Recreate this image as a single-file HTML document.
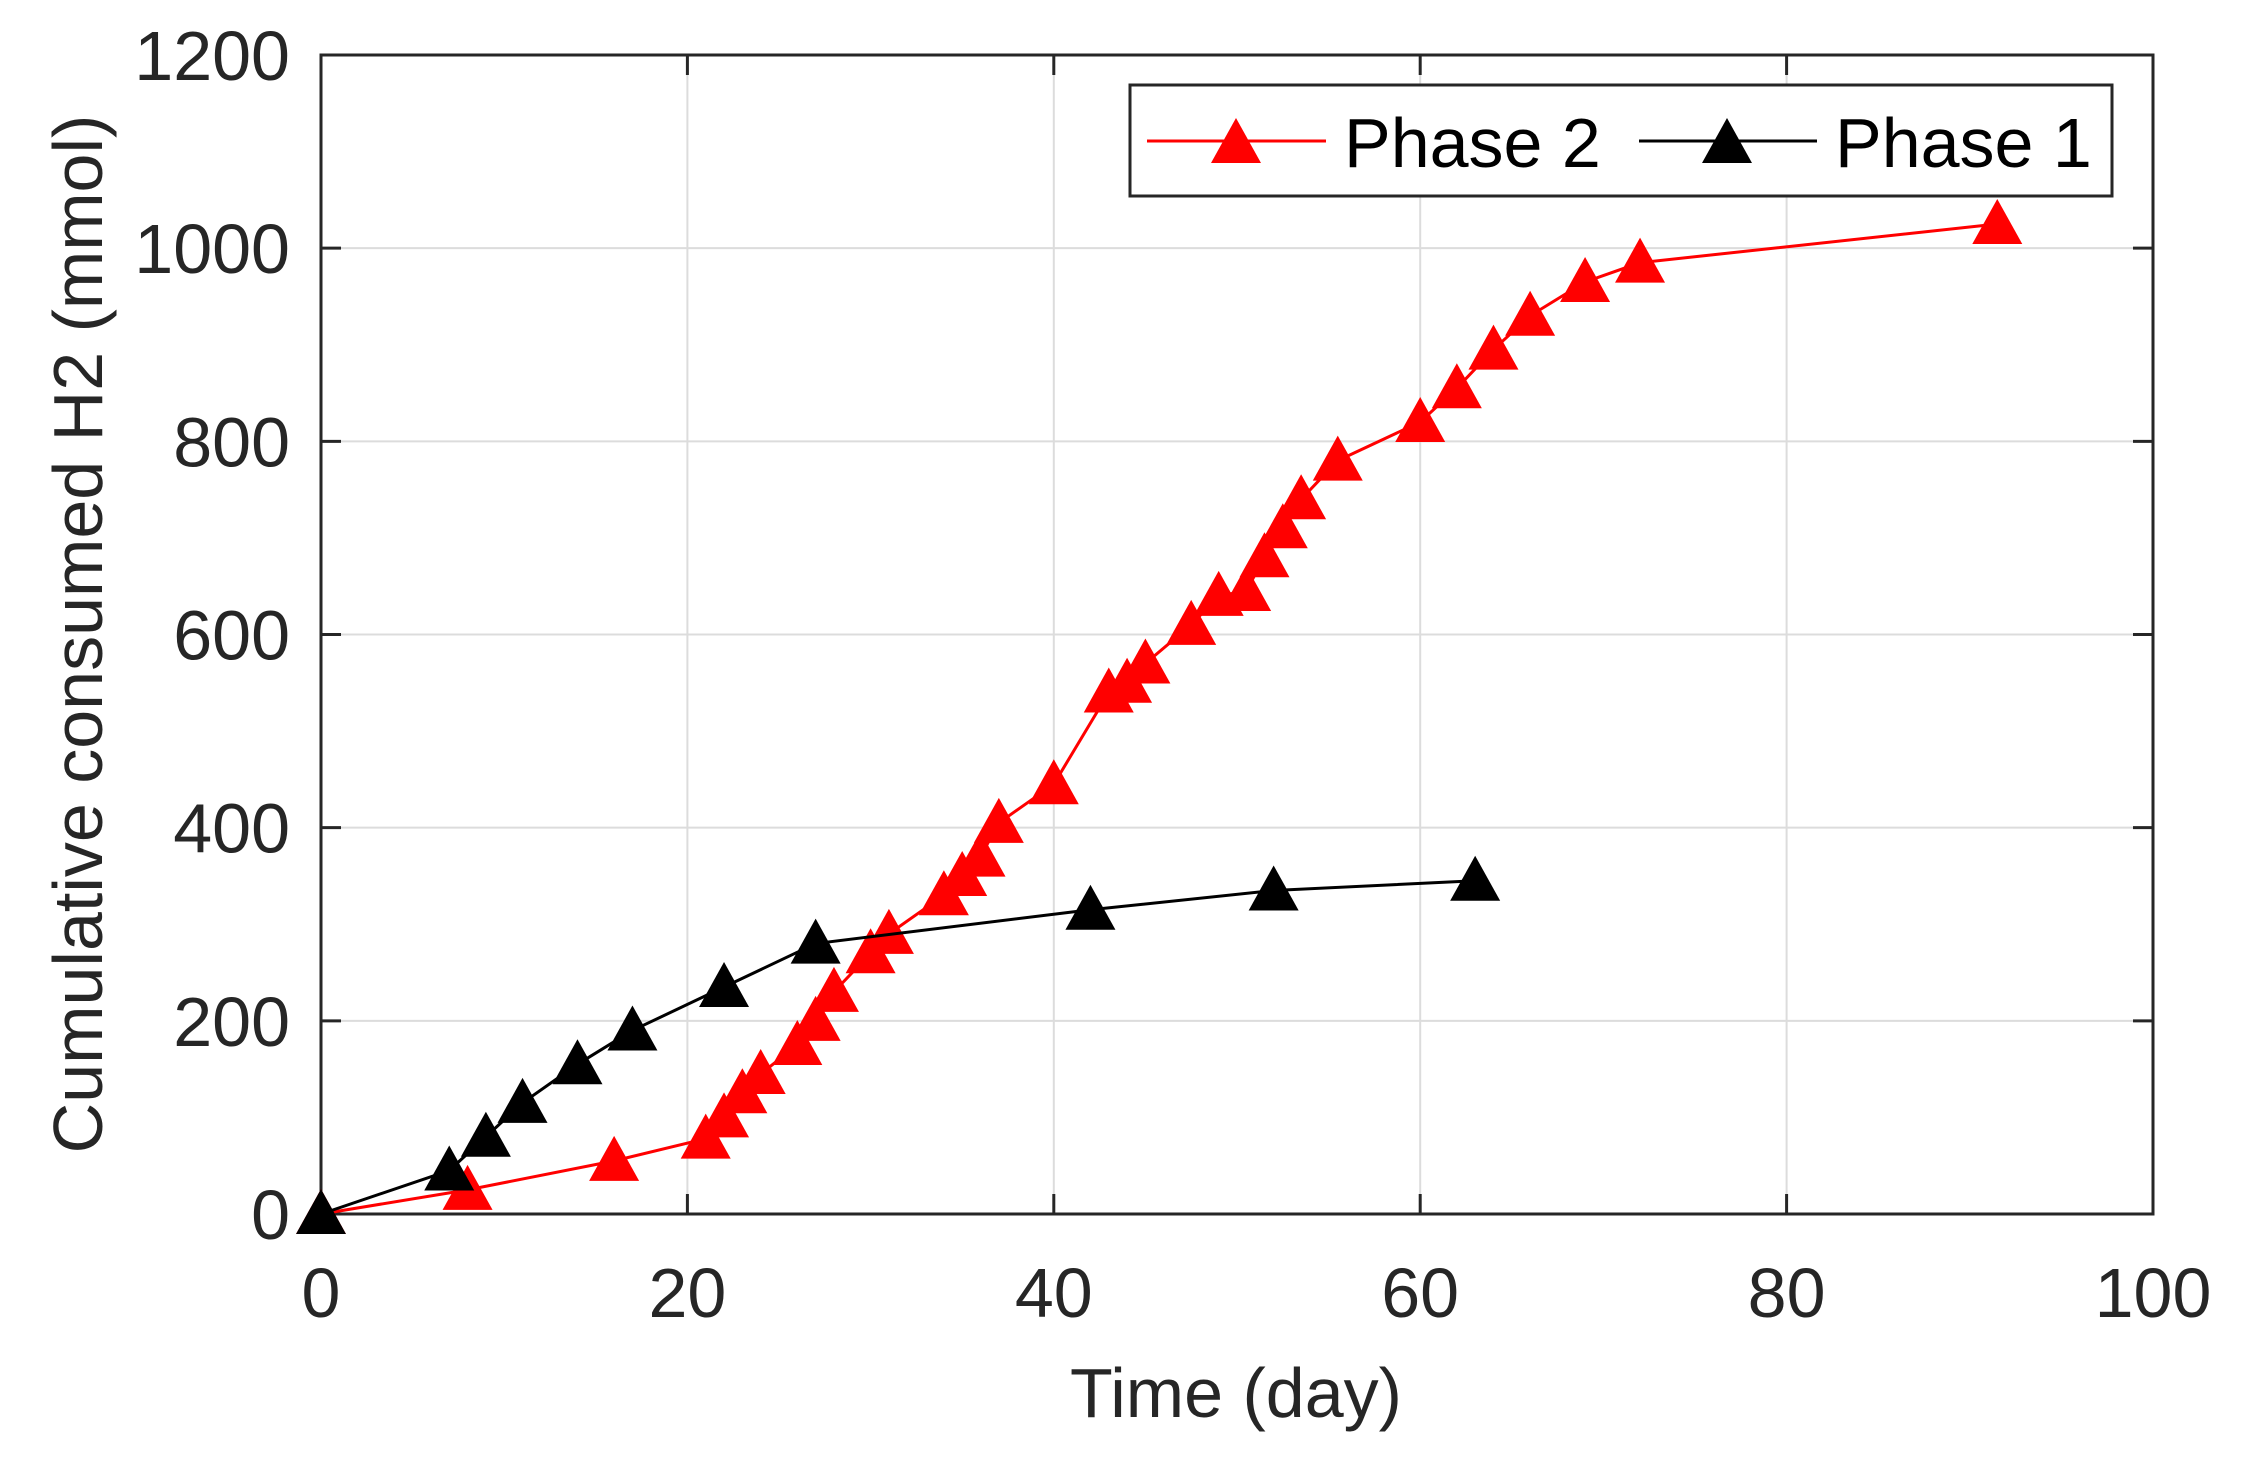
<!DOCTYPE html>
<html><head><meta charset="utf-8"><style>
html,body{margin:0;padding:0;background:#fff;}
svg{display:block;font-family:"Liberation Sans",Arial,sans-serif;}
</style></head><body>
<svg id="chart" width="2241" height="1462" viewBox="0 0 2241 1462" xmlns="http://www.w3.org/2000/svg">
<rect x="0" y="0" width="2241" height="1462" fill="#fff"/>
<g id="grid"></g>
<g id="axes"></g>
<g id="series"></g>
<text x="1236" y="1417" font-size="70" text-anchor="middle" fill="#262626">Time (day)</text>
<text transform="translate(102,634) rotate(-90)" font-size="70" text-anchor="middle" fill="#262626">Cumulative consumed H2 (mmol)</text>
<g>
<rect x="1130" y="85" width="982" height="111" fill="#fff" stroke="#262626" stroke-width="3"/>
<g>
<line x1="1147" y1="141" x2="1326" y2="141" stroke="#ff0000" stroke-width="3"/>
<polygon points="1236,118 1261,163 1211,163" fill="#ff0000"/>
<text x="1344" y="167" font-size="70" fill="#000">Phase 2</text>
</g>
<g>
<line x1="1639" y1="141" x2="1817" y2="141" stroke="#000" stroke-width="3"/>
<polygon points="1727,118 1752,163 1702,163" fill="#000"/>
<text x="1835" y="167" font-size="70" fill="#000">Phase 1</text>
</g>
</g>
</svg>
<script>
const xTicks = [0, 20, 40, 60, 80, 100];
const yTicks = [0, 200, 400, 600, 800, 1000, 1200];
const phase2Days = [0, 8, 16, 21, 22, 23, 24, 26, 27, 28, 30, 31, 34, 35, 36, 37, 40, 43, 44, 45, 47.5, 49, 50.5, 51.5, 52.5, 53.5, 55.5, 60, 62, 64, 66, 69, 72, 91.5];
const phase2Values = [0, 25, 55, 78, 100, 125, 145, 175, 200, 230, 270, 290, 330, 350, 370, 405, 445, 540, 550, 570, 610, 640, 645, 680, 710, 740, 780, 820, 855, 895, 930, 965, 985, 1025];
const phase1Days = [0, 7, 9, 11, 14, 17, 22, 27, 42, 52, 63];
const phase1Values = [0, 45, 80, 115, 155, 190, 235, 280, 315, 335, 345];

const L = 321, R = 2153, T = 55, B = 1214;
const xMin = 0, xMax = 100, yMin = 0, yMax = 1200;
function sx(v){ return L + (v - xMin) / (xMax - xMin) * (R - L); }
function sy(v){ return B - (v - yMin) / (yMax - yMin) * (B - T); }
const NS = 'http://www.w3.org/2000/svg';
function mk(tag, attrs, parent){
  const e = document.createElementNS(NS, tag);
  for (const k in attrs) e.setAttribute(k, attrs[k]);
  parent.appendChild(e);
  return e;
}
const grid = document.getElementById('grid');
const axes = document.getElementById('axes');
const series = document.getElementById('series');

xTicks.forEach(t => {
  const x = sx(t);
  const g = mk('line', {x1:x, y1:T, x2:x, y2:B, stroke:'#dcdcdc', 'stroke-width':2}, grid);
  
  
  mk('line', {x1:x, y1:B, x2:x, y2:B-20, stroke:'#262626', 'stroke-width':3}, axes);
  mk('line', {x1:x, y1:T, x2:x, y2:T+20, stroke:'#262626', 'stroke-width':3}, axes);
  const lb = mk('text', {x:x, y:1317, 'font-size':70, 'text-anchor':'middle', fill:'#262626'}, axes);
  lb.textContent = t;
  
  
});
yTicks.forEach(t => {
  const y = sy(t);
  const g = mk('line', {x1:L, y1:y, x2:R, y2:y, stroke:'#dcdcdc', 'stroke-width':2}, grid);
  
  
  mk('line', {x1:L, y1:y, x2:L+20, y2:y, stroke:'#262626', 'stroke-width':3}, axes);
  mk('line', {x1:R, y1:y, x2:R-20, y2:y, stroke:'#262626', 'stroke-width':3}, axes);
  const lb = mk('text', {x:290, y:y+25, 'font-size':70, 'text-anchor':'end', fill:'#262626'}, axes);
  lb.textContent = t;
  
  
});
const frame = mk('rect', {x:L, y:T, width:R-L, height:B-T, fill:'none', stroke:'#262626', 'stroke-width':3}, axes);



function drawSeries(xs, ys, color, name){
  const g = mk('g', {}, series);
  
  
  const pts = xs.map((x,i) => sx(x) + ',' + sy(ys[i])).join(' ');
  const pl = mk('polyline', {points:pts, fill:'none', stroke:color, 'stroke-width':3}, g);
  
  
  xs.forEach((x,i) => {
    const cx = sx(x), cy = sy(ys[i]);
    const p = mk('polygon', {points:(cx)+','+(cy-25)+' '+(cx+25)+','+(cy+20)+' '+(cx-25)+','+(cy+20), fill:color}, g);
    
    
  });
}
drawSeries(phase2Days, phase2Values, '#ff0000', 'phase-2');
drawSeries(phase1Days, phase1Values, '#000000', 'phase-1');
</script>
</body></html>
